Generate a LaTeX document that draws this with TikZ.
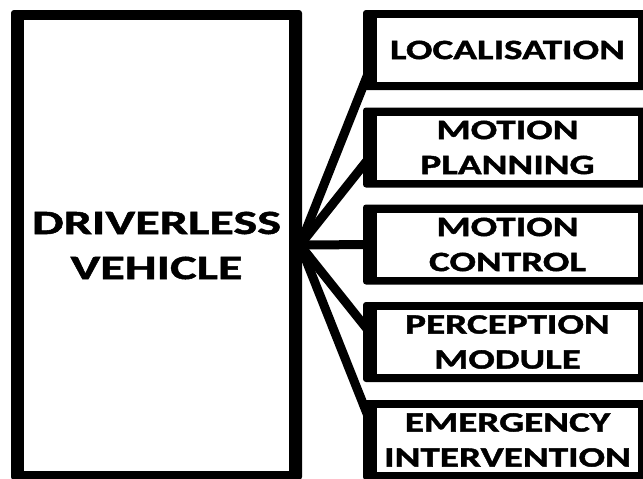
\documentclass[tikz,border=0pt]{standalone}
\usepackage{fontspec}
\newfontfamily\heavyfont{Carlito Bold}[FakeStretch=1.4, FakeBold=1.5]
\newfontfamily\heavybigfont{Carlito Bold}[FakeStretch=1.48, FakeBold=1.5]
\begin{document}
\begin{tikzpicture}[x=1pt,y=-1pt,
  inbox/.style={fill=white, inner sep=0pt, align=center, minimum width=261pt, minimum height=64pt,
    font=\heavyfont\fontsize{28}{35}\selectfont},
  bigbox/.style={fill=white, inner sep=0pt, align=center, minimum width=265pt, minimum height=451pt,
    font=\heavybigfont\fontsize{34}{45}\selectfont},
  link/.style={line width=9pt, black}]
\useasboundingbox (0,0) rectangle (643,479);
\path[fill=white] (0,0) rectangle (643,479);
\coordinate (hub) at (300,245);
% positions
\path (156.5,245.5) coordinate (cdv);
\path (507.5,50) coordinate (c1);
\path (507.5,147.5) coordinate (c2);
\path (507.5,244.5) coordinate (c3);
\path (507.5,342) coordinate (c4);
\path (507.5,440) coordinate (c5);
% connectors
\foreach \c in {c1,c2,c3,c4,c5}{
  \draw[link] (hub) -- ([xshift=-130pt]\c);
}
% black frames
\fill[black, rounded corners=3pt] (11,10) rectangle (302,480);
\foreach \c in {c1,c2,c3,c4,c5}{
  \fill[black, rounded corners=3pt] ([shift={(-144.5,-40)}]\c) rectangle ([shift={(144.5,40)}]\c);
}
% interiors with text
\node[bigbox] (dv) at (cdv) {DRIVERLESS\\VEHICLE};
\node[inbox] (loc) at (c1) {LOCALISATION};
\node[inbox] (mp) at (c2) {MOTION\\PLANNING};
\node[inbox] (mc) at (c3) {MOTION\\CONTROL};
\node[inbox] (pm) at (c4) {PERCEPTION\\MODULE};
\node[inbox] (ei) at (c5) {EMERGENCY\\INTERVENTION};
\end{tikzpicture}
\end{document}
